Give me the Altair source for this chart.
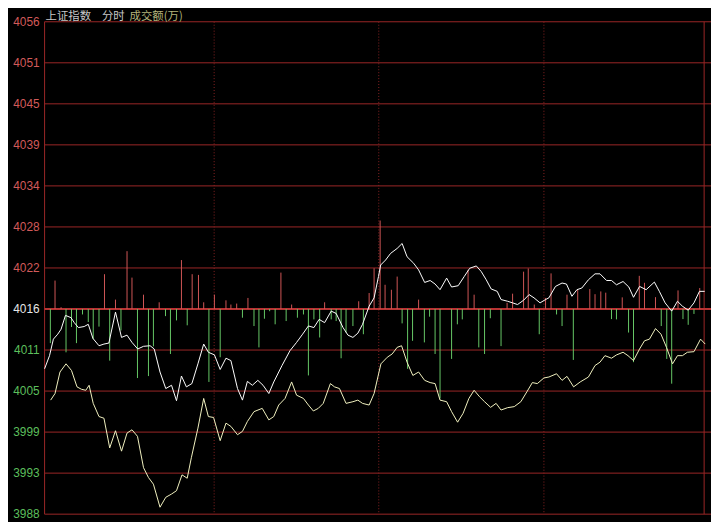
import altair as alt
import pandas as pd

# ---------------- data ----------------
# minutes from the left edge of the frame, index price (white line)
upper_minute = [0.0, 1.8, 3.2, 4.8, 6.0, 7.6, 9.6, 10.8, 12.3, 14.4, 15.9, 17.6, 19.8, 21.6, 23.4,
                25.8, 28.0, 30.0, 31.8, 33.9, 36.0, 38.4, 39.9, 42.0, 44.1, 46.2, 48.0, 49.8, 51.6,
                53.6, 55.8, 57.9, 59.6, 61.8, 63.9, 66.0, 67.8, 70.2, 72.0, 73.8, 75.6, 77.6, 79.5,
                81.6, 83.4, 86.4, 89.3, 91.7, 93.9, 96.0, 98.0, 99.9, 101.9, 104.3, 106.1, 108.6,
                110.4, 112.2, 114.0, 115.7, 118.1, 119.9, 121.5, 122.3, 124.1, 125.9, 128.3, 130.1,
                131.9, 134.3, 136.1, 138.3, 140.3, 142.1, 143.9, 146.3, 148.1, 150.5, 152.7, 154.7,
                157.1, 158.9, 160.7, 162.5, 164.7, 166.1, 168.5, 170.3, 172.1, 174.3, 176.3, 178.1,
                180.3, 182.3, 183.5, 185.9, 188.3, 189.9, 191.9, 193.7, 195.5, 197.9, 200.3, 202.1,
                204.5, 206.3, 208.1, 210.5, 212.6, 214.3, 216.5, 218.9, 221.9, 223.7, 225.8, 228.2,
                230.3, 232.1, 234.2, 236.3, 238.3, 240.2]
upper_price = [4008.08, 4009.89, 4012.17, 4012.86, 4013.54, 4015.45, 4015.14, 4014.45, 4013.77, 4013.91,
               4014.22, 4012.27, 4011.26, 4011.49, 4011.63, 4015.90, 4012.41, 4012.72, 4011.72, 4010.81,
               4011.18, 4011.26, 4010.81, 4007.63, 4005.35, 4005.80, 4003.67, 4007.08, 4005.58, 4006.03,
               4008.76, 4011.49, 4010.36, 4010.00, 4007.98, 4009.54, 4009.21, 4005.35, 4003.75, 4006.34,
               4005.80, 4006.48, 4005.80, 4004.66, 4006.26, 4008.53, 4010.58, 4011.72, 4012.86, 4013.99,
               4013.77, 4014.90, 4014.45, 4016.04, 4015.72, 4013.77, 4012.72, 4012.41, 4012.99, 4014.22,
               4016.72, 4017.87, 4020.82, 4022.41, 4023.10, 4024.01, 4024.70, 4025.38, 4023.55, 4022.65,
               4021.73, 4020.00, 4020.27, 4019.78, 4019.00, 4020.60, 4019.37, 4019.55, 4020.82, 4021.96,
               4022.28, 4021.50, 4020.37, 4019.10, 4018.77, 4017.64, 4017.40, 4017.18, 4016.95, 4017.54,
               4018.32, 4017.87, 4017.18, 4017.64, 4017.87, 4019.45, 4019.92, 4019.78, 4018.09, 4019.00,
               4019.23, 4020.37, 4021.19, 4021.19, 4020.27, 4020.27, 4019.68, 4020.13, 4019.37, 4017.95,
               4019.45, 4019.00, 4020.05, 4018.77, 4017.18, 4016.04, 4017.40, 4016.72, 4016.17, 4017.18,
               4018.77, 4018.77]

# second (pale yellow) line
lower_minute = [2.2, 3.8, 5.6, 7.8, 9.8, 11.8, 13.4, 15.0, 16.2, 17.7, 19.8, 21.6, 23.7, 25.8, 28.0,
                30.0, 31.8, 33.8, 36.0, 37.8, 39.6, 42.0, 44.1, 46.2, 48.0, 50.0, 51.9, 53.4, 55.8,
                57.9, 59.6, 61.5, 63.9, 66.0, 67.8, 70.2, 72.0, 73.8, 76.2, 79.2, 81.6, 83.4, 85.2,
                87.5, 89.9, 91.7, 94.2, 96.0, 97.8, 99.6, 101.4, 104.0, 105.5, 107.3, 109.7, 112.2,
                114.0, 115.7, 118.1, 119.9, 121.7, 122.4, 124.7, 126.5, 128.3, 129.9, 131.9, 134.0,
                136.1, 138.3, 140.3, 142.1, 143.9, 146.3, 148.1, 150.3, 152.3, 154.4, 156.3, 158.3,
                160.1, 162.3, 164.3, 166.1, 168.5, 170.9, 173.3, 175.5, 177.5, 179.3, 181.7, 183.5,
                186.3, 188.3, 190.1, 192.5, 194.9, 197.9, 200.3, 202.1, 203.9, 206.3, 208.1, 210.5,
                212.3, 214.3, 216.5, 218.3, 220.1, 222.3, 224.3, 226.3, 228.5, 230.3, 232.1, 233.9,
                236.3, 238.7, 240.4]
lower_price = [4003.75, 4004.66, 4007.63, 4008.76, 4007.84, 4005.58, 4005.25, 4005.11, 4005.80, 4003.30,
               4001.48, 4001.25, 3997.15, 3999.52, 3996.70, 3999.20, 3999.65, 3998.75, 3994.42, 3993.06,
               3992.14, 3988.96, 3990.33, 3990.78, 3991.24, 3993.43, 3992.96, 3995.79, 3999.88, 4003.98,
               4001.48, 4001.35, 3998.15, 4000.57, 4000.12, 3998.97, 3999.43, 4000.80, 4002.16, 4002.61,
               4001.02, 4001.48, 4003.07, 4003.98, 4006.26, 4004.43, 4003.98, 4003.07, 4002.25, 4002.61,
               4003.30, 4006.03, 4005.58, 4005.35, 4003.30, 4003.53, 4003.75, 4003.30, 4003.07, 4004.66,
               4007.63, 4008.76, 4009.67, 4010.13, 4011.04, 4011.26, 4008.99, 4007.16, 4007.63, 4006.48,
               4006.17, 4006.03, 4003.75, 4003.53, 4002.16, 4000.70, 4001.93, 4003.98, 4005.11, 4004.21,
               4003.53, 4002.75, 4003.30, 4002.38, 4002.71, 4002.85, 4003.53, 4004.90, 4006.17, 4006.03,
               4006.81, 4006.94, 4007.39, 4006.48, 4007.03, 4005.58, 4006.26, 4006.94, 4008.53, 4008.99,
               4009.89, 4009.54, 4009.99, 4010.36, 4009.89, 4009.21, 4010.81, 4011.94, 4012.17, 4013.63,
               4012.86, 4011.04, 4008.76, 4009.89, 4009.89, 4010.36, 4010.44, 4012.17, 4011.49]

# red bars (top end) and green bars (bottom end), drawn from the 4016 line
red_minute = [3.8, 6.0, 21.8, 25.8, 30.0, 31.8, 36.0, 41.7, 49.8, 53.7, 56.0, 57.9, 61.8, 66.0, 67.8,
              69.9, 74.0, 86.0, 89.9, 101.9, 114.3, 118.1, 119.9, 122.1, 123.9, 126.2, 128.3, 136.1,
              154.1, 156.3, 168.3, 170.3, 174.3, 176.0, 178.2, 182.3, 184.3, 190.1, 194.0, 198.4,
              200.3, 202.4, 204.2, 210.2, 216.4, 218.3, 222.3, 230.5, 238.4]
red_top = [4020.26, 4016.58, 4021.14, 4017.63, 4024.32, 4020.67, 4018.31, 4017.26, 4023.09, 4021.14,
           4021.04, 4017.26, 4018.31, 4017.53, 4016.95, 4017.08, 4017.86, 4021.36, 4016.95, 4017.26,
           4017.40, 4018.54, 4021.96, 4028.55, 4019.68, 4018.99, 4020.81, 4017.63, 4021.73, 4018.31,
           4017.18, 4018.45, 4021.49, 4021.93, 4016.95, 4017.86, 4021.25, 4018.31, 4018.99, 4019.09,
           4018.38, 4018.76, 4018.59, 4017.94, 4020.91, 4019.95, 4017.97, 4018.90, 4019.23]
green_minute = [2.1, 7.8, 9.8, 11.6, 13.8, 15.9, 17.7, 19.8, 23.7, 27.8, 33.8, 37.8, 39.6, 44.0, 45.8,
                48.0, 51.9, 59.8, 63.9, 72.0, 76.2, 78.0, 80.0, 81.9, 83.9, 87.9, 92.0, 94.2, 96.0,
                98.0, 100.1, 104.3, 106.1, 107.9, 109.7, 112.2, 116.0, 130.1, 132.1, 133.9, 138.2,
                140.1, 142.1, 143.9, 148.1, 150.2, 152.0, 158.0, 160.1, 162.2, 166.1, 180.0, 186.3,
                188.3, 192.4, 206.3, 208.1, 212.5, 214.3, 224.4, 226.4, 228.2, 232.3, 234.2, 236.3]
green_bottom = [4011.62, 4010.35, 4013.85, 4011.62, 4015.58, 4014.53, 4012.17, 4013.90, 4009.20, 4013.37,
                4006.80, 4007.07, 4011.17, 4015.35, 4010.12, 4014.76, 4014.08, 4006.26, 4009.67, 4015.13,
                4013.98, 4011.03, 4014.99, 4016.03, 4014.22, 4014.67, 4015.13, 4015.58, 4007.16, 4014.90,
                4012.40, 4014.90, 4014.67, 4009.53, 4013.08, 4013.98, 4012.85, 4014.35, 4008.07, 4011.94,
                4011.72, 4015.27, 4010.12, 4003.97, 4009.44, 4014.22, 4014.90, 4011.03, 4010.12, 4015.06,
                4011.21, 4012.85, 4015.58, 4013.98, 4009.30, 4014.94, 4014.90, 4013.08, 4008.99, 4013.98,
                4009.44, 4006.02, 4014.94, 4014.15, 4015.65]

axis_labels = ["4056", "4051", "4045", "4039", "4034", "4028", "4022",
               "4016", "4011", "4005", "3999", "3993", "3988"]
divider_minutes = [61.7, 121.6, 181.7]
frame_minutes = [0.0, 240.0]
title_parts = ["上证指数", "分时", "成交额(万)"]

# ---------------- scales / layout ----------------
Y_MIN, Y_MAX = 3988, 4056
N_STEPS = len(axis_labels) - 1
BASE = Y_MAX - 7 * (Y_MAX - Y_MIN) / N_STEPS

W, H = 674, 498
xs = alt.Scale(domain=[0, 242.5], nice=False, zero=False)
ys = alt.Scale(domain=[Y_MIN, Y_MAX], nice=False, zero=False)

GRID = "#9b2626"
RED = "#d05656"
GREEN = "#66c866"

levels = [Y_MAX - k * (Y_MAX - Y_MIN) / N_STEPS for k in range(len(axis_labels))]
lab_colors = ["#d25a5a" if k < 7 else ("#e6e6e6" if k == 7 else "#5cbf5c")
              for k in range(len(axis_labels))]
grid_df = pd.DataFrame({"v": levels, "label": axis_labels, "col": lab_colors,
                        "main": [k == 7 for k in range(len(axis_labels))]})

upper_df = pd.DataFrame({"m": upper_minute, "v": upper_price})
lower_df = pd.DataFrame({"m": lower_minute, "v": lower_price})
red_df = pd.DataFrame({"m": red_minute, "v": red_top, "base": BASE})
green_df = pd.DataFrame({"m": green_minute, "v": green_bottom, "base": BASE})
div_df = pd.DataFrame({"m": divider_minutes})
frame_df = pd.DataFrame({"m": frame_minutes})

X = lambda f: alt.X(f, type="quantitative", scale=xs, axis=None)
Y = lambda f: alt.Y(f, type="quantitative", scale=ys, axis=None)

grid = alt.Chart(grid_df[~grid_df["main"]]).mark_rule(color=GRID, strokeWidth=1).encode(y=Y("v"))
main_line = alt.Chart(grid_df[grid_df["main"]]).mark_rule(color="#b83434", strokeWidth=2).encode(y=Y("v"))
frame = alt.Chart(frame_df).mark_rule(color=GRID, strokeWidth=1).encode(x=X("m"))
dividers = alt.Chart(div_df).mark_rule(color="#8a2222", strokeWidth=1, strokeDash=[1, 2]).encode(x=X("m"))

labels = alt.Chart(grid_df).mark_text(align="right", baseline="middle", fontSize=12,
                                      font="Liberation Sans").encode(
    y=Y("v"), x=alt.value(-5), text="label:N", color=alt.Color("col:N", scale=None))

red_bars = alt.Chart(red_df).mark_rule(color=RED, strokeWidth=1).encode(
    x=X("m"), y=Y("v"), y2="base")
green_bars = alt.Chart(green_df).mark_rule(color=GREEN, strokeWidth=1).encode(
    x=X("m"), y=Y("v"), y2="base")

lower_line = alt.Chart(lower_df).mark_line(color="#f2f2c0", strokeWidth=1).encode(x=X("m"), y=Y("v"))
upper_line = alt.Chart(upper_df).mark_line(color="#ffffff", strokeWidth=1).encode(x=X("m"), y=Y("v"))

t_font = "Noto Sans CJK SC"
T_Y = -11
title1 = alt.Chart(pd.DataFrame({"t": [title_parts[0]]})).mark_text(
    align="left", baseline="top", fontSize=11.5, font=t_font, color="#c8c8c8").encode(
    text="t:N", x=alt.value(1), y=alt.value(T_Y))
title2 = alt.Chart(pd.DataFrame({"t": [title_parts[1]]})).mark_text(
    align="left", baseline="top", fontSize=11.5, font=t_font, color="#c8c8c8").encode(
    text="t:N", x=alt.value(58), y=alt.value(T_Y))
title3 = alt.Chart(pd.DataFrame({"t": [title_parts[2]]})).mark_text(
    align="left", baseline="top", fontSize=11.5, font=t_font, color="#b4b47c").encode(
    text="t:N", x=alt.value(86), y=alt.value(T_Y))

chart = alt.layer(
    grid, dividers, frame, main_line, red_bars, green_bars, lower_line, upper_line,
    labels, title1, title2, title3
).properties(
    width=W, height=H, background="black",
    padding={"left": 37, "top": 11, "right": 0, "bottom": 5},
    autosize=alt.AutoSizeParams(type="none"),
).configure_view(stroke=None)

chart.save("out.html", embed_options={"renderer": "svg", "actions": False})
